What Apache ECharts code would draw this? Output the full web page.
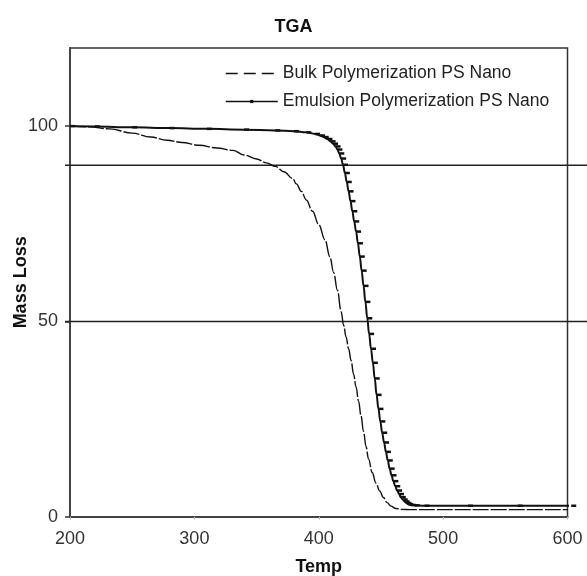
<!DOCTYPE html>
<html>
<head>
<meta charset="utf-8">
<script src="https://cdn.jsdelivr.net/npm/echarts@6/dist/echarts.min.js"></script>
<style>
  html, body { margin: 0; padding: 0; background: #fff; }
  #chart { width: 587px; height: 576px; }
</style>
</head>
<body>
<div id="chart"></div>
<script>
// ---- Data ----
const chartTitle = 'TGA';
const xName = 'Temp';
const yName = 'Mass Loss';
const seriesNames = ['Bulk Polymerization PS Nano', 'Emulsion Polymerization PS Nano'];
const xTicks = [200, 300, 400, 500, 600];
const yTickLabels = [0, 50, 100];
const refLevels = [90, 50];

const bulkTemp = [200, 215, 232, 250, 265, 278, 290, 304, 318, 331, 340, 350, 358, 365, 372, 379, 382, 386, 390, 395, 400, 405, 409, 412, 415, 418, 420, 422, 424, 426, 428, 430, 432, 434, 436, 438, 440, 443, 446, 449, 452, 455, 458, 462, 466, 475, 540, 600];
const bulkMass = [100, 99.8, 99.3, 98.2, 97.2, 96.4, 95.8, 95.1, 94.4, 93.8, 92.6, 91.6, 90.6, 89.7, 88.3, 86.6, 85.2, 83.3, 81.1, 78.2, 74.8, 70.9, 66.5, 62.5, 58.0, 52.5, 49.0, 46.0, 43.0, 40.0, 36.5, 33.2, 29.6, 25.8, 21.8, 18.0, 14.8, 11.3, 8.6, 6.6, 4.9, 3.6, 2.7, 2.1, 1.9, 1.8, 1.8, 1.8];

const emulsionTemp = [200, 220, 250, 280, 310, 340, 365, 380, 390, 397, 401, 404, 407, 409.5, 411.5, 413.5, 415, 416.5, 418, 419.5, 421, 422.5, 424, 425.5, 427, 428.5, 430, 431.5, 433, 434.5, 436, 437.5, 439, 440.5, 442, 443.5, 445, 446.5, 448, 449.5, 451, 452.5, 454, 455.5, 457, 458.5, 460, 461.5, 463, 464.5, 466, 467.5, 469, 470.5, 472, 474, 477, 485, 520, 560, 603];
const emulsionMass = [100, 99.9, 99.7, 99.5, 99.3, 99.1, 98.9, 98.7, 98.4, 98.0, 97.6, 97.2, 96.7, 96.1, 95.5, 94.8, 94.0, 93.0, 91.7, 90.1, 88.0, 85.7, 83.3, 80.8, 78.2, 75.6, 73.0, 70.0, 66.6, 63.0, 59.1, 55.0, 50.8, 46.8, 43.0, 39.4, 35.4, 31.2, 27.6, 24.4, 21.5, 19.0, 16.6, 14.4, 12.3, 10.6, 9.1, 7.8, 6.7, 5.8, 5.0, 4.4, 3.9, 3.5, 3.2, 3.0, 2.9, 2.8, 2.8, 2.8, 2.8];

const zip = (xs, ys) => xs.map((x, i) => [x, ys[i]]);
const FONT = '"Liberation Sans", Arial, sans-serif';

const chart = echarts.init(document.getElementById('chart'), null, { renderer: 'canvas' });

const option = {
  animation: false,
  backgroundColor: '#ffffff',
  title: {
    text: chartTitle,
    left: 'center',
    top: 13,
    textStyle: { fontFamily: FONT, fontSize: 18, fontWeight: 'bold', color: '#111' }
  },
  legend: {
    orient: 'vertical',
    left: 225,
    top: 64.5,
    padding: 0,
    itemWidth: 52,
    itemHeight: 4,
    itemGap: 10,
    textStyle: { fontFamily: FONT, fontSize: 17.5, color: '#222' },
    data: [
      { name: seriesNames[0], lineStyle: { type: [12, 6], width: 1.5, color: '#111' }, itemStyle: { opacity: 0 } },
      { name: seriesNames[1], lineStyle: { width: 1.5, color: '#111' } }
    ]
  },
  grid: {
    left: 70,
    right: 19.5,
    top: 48,
    bottom: 59.3,
    outerBoundsMode: 'none',
    containLabel: false,
    show: true,
    borderColor: '#333',
    borderWidth: 1.5,
    backgroundColor: 'transparent'
  },
  xAxis: {
    type: 'value',
    min: xTicks[0],
    max: xTicks[xTicks.length - 1],
    interval: 100,
    name: xName,
    nameLocation: 'middle',
    nameGap: 41,
    nameMoveOverlap: false,
    nameTextStyle: { fontFamily: FONT, fontSize: 18, fontWeight: 'bold', color: '#111' },
    axisLine: { show: true, lineStyle: { color: '#444', width: 2 } },
    axisTick: { show: true, length: 3, lineStyle: { color: '#bbb', width: 1 } },
    axisLabel: { fontFamily: FONT, fontSize: 18, color: '#333', margin: 13 },
    splitLine: { show: false }
  },
  yAxis: {
    type: 'value',
    min: 0,
    max: 120,
    interval: 50,
    name: yName,
    nameLocation: 'middle',
    nameGap: 40,
    nameMoveOverlap: false,
    nameTextStyle: { fontFamily: FONT, fontSize: 18, fontWeight: 'bold', color: '#111' },
    axisLine: { show: true, lineStyle: { color: '#444', width: 2 } },
    axisTick: { show: true, length: 5, customValues: yTickLabels, lineStyle: { color: '#333', width: 1.5 } },
    axisLabel: { fontFamily: FONT, fontSize: 18, color: '#333', margin: 12, customValues: yTickLabels },
    splitLine: { show: false }
  },
  series: [
    {
      name: seriesNames[0],
      type: 'line',
      data: zip(bulkTemp, bulkMass),
      showSymbol: false,
      symbol: 'none',
      smooth: 0.4,
      smoothMonotone: 'x',
      lineStyle: { color: '#111', width: 1.4, type: [16, 2] },
      itemStyle: { color: '#111' },
      z: 3
    },
    {
      name: seriesNames[1],
      type: 'line',
      data: zip(emulsionTemp, emulsionMass),
      clip: false,
      symbol: 'rect',
      symbolSize: [5, 2.5],
      symbolOffset: [2.5, 0],
      showSymbol: true,
      showAllSymbol: true,
      smooth: 0.4,
      smoothMonotone: 'x',
      lineStyle: { color: '#111', width: 2 },
      itemStyle: { color: '#111' },
      z: 4
    }
  ]
};

chart.setOption(option);

// Reference horizontal lines (90 and 50), positioned through the chart's own scales
const gfx = refLevels.map(v => {
  const p = chart.convertToPixel({ xAxisIndex: 0, yAxisIndex: 0 }, [xTicks[0], v]);
  return {
    type: 'line',
    shape: { x1: p[0] - 5, y1: p[1], x2: 587, y2: p[1] },
    style: { stroke: '#222', lineWidth: 1.5 },
    z: 2
  };
});
chart.setOption({ graphic: gfx });
</script>
</body>
</html>
